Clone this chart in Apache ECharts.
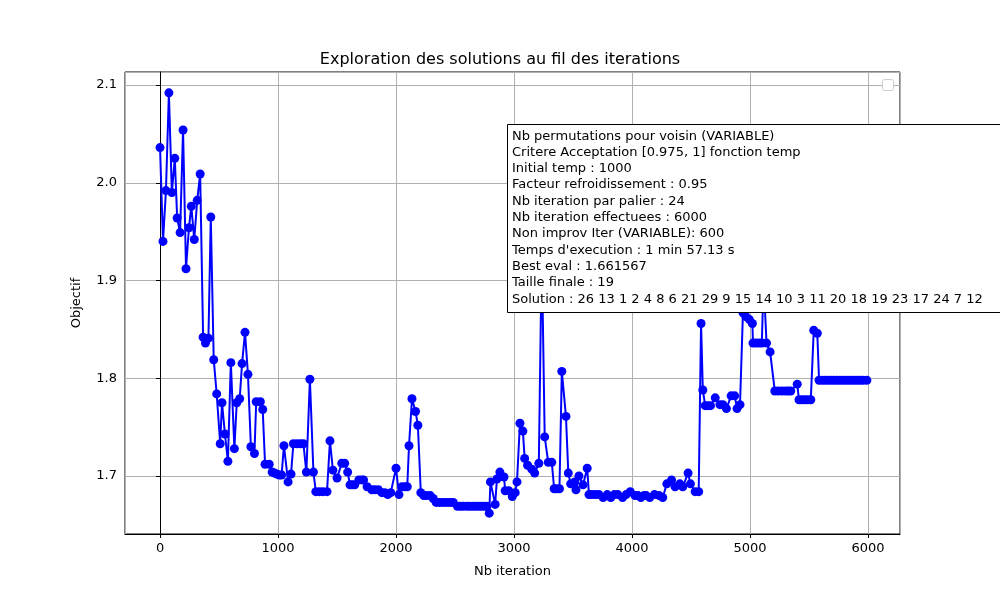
<!DOCTYPE html>
<html>
<head>
<meta charset="utf-8">
<script src="https://cdn.jsdelivr.net/npm/echarts@6/dist/echarts.min.js"></script>
<style>html,body{margin:0;background:#fff}#c{width:1000px;height:600px}</style>
</head>
<body>
<div id="c"></div>
<script>
// iterations et valeurs
const iterations = [0,25,50,75,100,125,145,170,195,220,245,265,290,315,340,365,385,410,430,455,480,510,525,550,575,600,630,650,675,695,720,745,770,800,815,850,870,890,925,950,970,990,1010,1030,1050,1085,1110,1130,1160,1190,1215,1240,1270,1300,1320,1350,1380,1415,1440,1465,1500,1540,1565,1590,1610,1630,1650,1685,1710,1725,1755,1795,1820,1850,1880,1905,1930,1955,2000,2025,2050,2075,2095,2110,2135,2165,2185,2210,2235,2260,2290,2315,2340,2365,2390,2415,2440,2465,2485,2520,2545,2570,2600,2625,2650,2675,2700,2725,2750,2770,2790,2800,2840,2855,2880,2915,2925,2955,2985,3010,3025,3050,3075,3090,3115,3150,3175,3210,3235,3260,3290,3320,3340,3360,3385,3405,3440,3460,3480,3515,3525,3550,3585,3620,3635,3660,3690,3720,3755,3790,3820,3850,3880,3920,3950,3985,4025,4050,4075,4100,4120,4150,4190,4230,4260,4295,4335,4365,4405,4430,4475,4495,4535,4565,4585,4600,4620,4640,4665,4705,4745,4770,4800,4840,4870,4890,4915,4940,4965,4995,5020,5025,5050,5075,5100,5115,5140,5170,5210,5240,5270,5300,5325,5345,5400,5415,5440,5465,5490,5515,5540,5570,5585,5610,5635,5660,5685,5710,5735,5760,5785,5810,5835,5860,5885,5910,5935,5960,5990];
const objectif = [2.036,1.940,1.992,2.092,1.990,2.025,1.964,1.949,2.054,1.912,1.954,1.976,1.942,1.982,2.009,1.842,1.836,1.841,1.965,1.819,1.784,1.733,1.775,1.743,1.715,1.816,1.728,1.775,1.779,1.815,1.847,1.804,1.730,1.723,1.776,1.776,1.768,1.712,1.712,1.704,1.703,1.702,1.701,1.701,1.731,1.694,1.702,1.733,1.733,1.733,1.733,1.704,1.799,1.704,1.684,1.684,1.684,1.684,1.736,1.706,1.698,1.713,1.713,1.704,1.691,1.691,1.691,1.696,1.696,1.696,1.689,1.686,1.686,1.686,1.683,1.683,1.681,1.683,1.708,1.681,1.689,1.689,1.689,1.731,1.779,1.766,1.752,1.683,1.680,1.680,1.680,1.677,1.673,1.673,1.673,1.673,1.673,1.673,1.673,1.669,1.669,1.669,1.669,1.669,1.669,1.669,1.669,1.669,1.669,1.669,1.662,1.694,1.671,1.697,1.704,1.699,1.685,1.685,1.679,1.683,1.694,1.754,1.746,1.718,1.711,1.707,1.703,1.713,1.930,1.740,1.714,1.714,1.687,1.687,1.687,1.807,1.761,1.703,1.692,1.694,1.686,1.700,1.691,1.708,1.681,1.681,1.681,1.681,1.678,1.681,1.678,1.681,1.681,1.678,1.681,1.684,1.680,1.680,1.678,1.680,1.680,1.678,1.681,1.680,1.678,1.692,1.696,1.689,1.692,1.689,1.703,1.692,1.684,1.684,1.856,1.788,1.772,1.772,1.772,1.780,1.773,1.773,1.769,1.782,1.782,1.769,1.773,1.867,1.863,1.860,1.856,1.836,1.836,1.836,1.836,1.900,1.836,1.827,1.787,1.787,1.787,1.787,1.787,1.787,1.794,1.778,1.778,1.778,1.778,1.778,1.849,1.846,1.798,1.798,1.798,1.798,1.798,1.798,1.798,1.798,1.798,1.798,1.798,1.798,1.798,1.798,1.798,1.798,1.798];
const infoLines = [
  "Nb permutations pour voisin (VARIABLE)",
  "Critere Acceptation [0.975, 1] fonction temp",
  "Initial temp : 1000",
  "Facteur refroidissement : 0.95",
  "Nb iteration par palier : 24",
  "Nb iteration effectuees : 6000",
  "Non improv Iter (VARIABLE): 600",
  "Temps d'execution : 1 min 57.13 s",
  "Best eval : 1.661567",
  "Taille finale : 19",
  "Solution : 26 13 1 2 4 8 6 21 29 9 15 14 10 3 11 20 18 19 23 17 24 7 12"
];

const chart = echarts.init(document.getElementById("c"));
const font = "DejaVu Sans";
const axisCommon = {
  axisLine: { show: true, lineStyle: { color: "#000" } },
  axisTick: { show: true, inside: false, length: 4, lineStyle: { color: "#000" } },
  splitLine: { show: true, lineStyle: { color: "#b0b0b0", width: 1 } },
  nameTextStyle: { fontFamily: font, fontSize: 13, color: "#000" },
};
chart.setOption({
  animation: false,
  title: {
    text: "Exploration des solutions au fil des iterations",
    left: "center", top: 47,
    textStyle: { fontFamily: font, fontSize: 16, fontWeight: "normal", color: "#000" },
  },
  grid: { left: 125, right: 100, top: 72, bottom: 66, show: true, borderColor: "#000", borderWidth: 1 },
  xAxis: Object.assign({}, axisCommon, {
    type: "value", min: -297, max: 6271,
    name: "Nb iteration", nameLocation: "middle", nameGap: 31,
    axisLabel: {
      fontFamily: font, fontSize: 13, color: "#000", margin: 8,
      showMinLabel: false, showMaxLabel: false,
      formatter: (v) => (v % 1000 === 0 ? String(v) : ""),
    },
  }),
  yAxis: Object.assign({}, axisCommon, {
    type: "value", min: 1.6407, max: 2.1133,
    name: "Objectif", nameLocation: "middle", nameGap: 42,
    axisLabel: {
      fontFamily: font, fontSize: 13, color: "#000", margin: 8,
      showMinLabel: false, showMaxLabel: false,
      formatter: (v) => (Math.abs(v * 10 - Math.round(v * 10)) < 1e-6 ? v.toFixed(1) : ""),
    },
  }),
  series: [{
    type: "line",
    data: iterations.map((x, i) => [x, objectif[i]]),
    symbol: "circle", symbolSize: 9,
    lineStyle: { color: "#0000ff", width: 2 },
    itemStyle: { color: "#0000ff" },
    z: 2,
  }],
  graphic: [
    { type: "rect", left: 882, top: 79, shape: { width: 11, height: 11, r: 2 },
      style: { fill: "#fff", stroke: "#ccc", lineWidth: 1 }, z: 10 },
    { type: "rect", left: 507, top: 124, shape: { width: 520, height: 188 },
      style: { fill: "#fff", stroke: "#000", lineWidth: 1 }, z: 10 },
    { type: "text", left: 512, top: 128, z: 11,
      style: { text: infoLines.join("\n"), fontFamily: font, fontSize: 13, lineHeight: 16.3, fill: "#000" } },
  ],
});
</script>
</body>
</html>
